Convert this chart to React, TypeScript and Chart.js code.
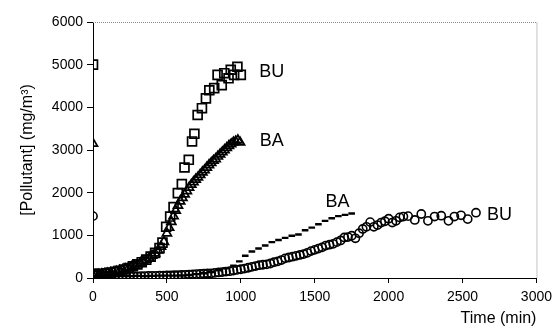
import React, { useEffect, useRef } from "react";
import { Chart, registerables } from "chart.js";

Chart.register(...registerables);

// BU (first run) – squares
const buSqTime = [0, 0, 30, 60, 90, 120, 150, 180, 210, 240, 270, 300, 330, 360, 390, 420, 450, 470, 495, 522, 545, 574, 601, 619, 648, 670, 686, 708, 737, 764, 787, 820, 843, 871, 888, 917, 932, 955, 977, 1000];
const buSqValue = [5000, 100, 95, 100, 110, 125, 145, 170, 200, 235, 275, 320, 370, 430, 500, 590, 700, 830, 1200, 1440, 1660, 1990, 2200, 2590, 2770, 3200, 3380, 3820, 3980, 4210, 4400, 4450, 4760, 4520, 4800, 4680, 4880, 4760, 4950, 4760];

// BA (first run) – triangles
const baTriTime = [0, 0, 20, 40, 60, 80, 100, 120, 140, 160, 180, 200, 220, 240, 260, 280, 300, 320, 340, 360, 380, 400, 420, 440, 460, 480, 500, 515, 530, 545, 560, 575, 590, 605, 620, 635, 650, 665, 680, 695, 710, 725, 740, 755, 770, 785, 800, 815, 830, 845, 860, 875, 890, 905, 920, 935, 950, 965, 980, 995];
const baTriValue = [3150, 60, 70, 80, 90, 100, 110, 120, 135, 150, 170, 190, 210, 235, 260, 290, 320, 355, 390, 430, 475, 525, 580, 650, 740, 850, 1050, 1180, 1320, 1450, 1580, 1700, 1800, 1880, 1960, 2040, 2120, 2190, 2250, 2310, 2360, 2420, 2480, 2530, 2590, 2650, 2700, 2750, 2790, 2850, 2900, 2950, 3000, 3050, 3100, 3140, 3180, 3200, 3230, 3180];

// BA (second run) – dashes
const baDashTime = [0, 50, 100, 150, 200, 250, 300, 350, 400, 450, 500, 550, 600, 650, 700, 750, 800, 850, 900, 950, 990, 1030, 1075, 1120, 1165, 1210, 1255, 1300, 1345, 1390, 1435, 1480, 1525, 1570, 1615, 1660, 1705, 1750];
const baDashValue = [50, 40, 45, 40, 45, 45, 50, 45, 50, 55, 55, 55, 60, 70, 90, 110, 140, 180, 230, 290, 390, 520, 620, 690, 760, 840, 890, 940, 990, 1020, 1120, 1180, 1260, 1340, 1400, 1450, 1480, 1510];

// BU (second run) – circles
const buCirTime = [0, 0, 25, 50, 75, 100, 125, 150, 175, 200, 225, 250, 275, 300, 325, 350, 375, 400, 425, 450, 475, 500, 525, 550, 575, 600, 625, 650, 675, 700, 725, 750, 775, 800, 825, 850, 875, 900, 925, 950, 975, 1000, 1025, 1050, 1075, 1100, 1125, 1150, 1175, 1200, 1225, 1250, 1275, 1300, 1325, 1350, 1375, 1400, 1425, 1450, 1475, 1500, 1525, 1550, 1575, 1600, 1625, 1650, 1675, 1700, 1725, 1750, 1775, 1800, 1825, 1850, 1875, 1900, 1925, 1950, 1975, 2000, 2025, 2050, 2075, 2100, 2132, 2177, 2221, 2266, 2311, 2356, 2405, 2445, 2490, 2535, 2591];
const buCirValue = [1450, 80, 70, 60, 55, 50, 50, 45, 45, 40, 40, 40, 45, 40, 45, 45, 50, 50, 50, 55, 55, 60, 60, 65, 65, 70, 75, 80, 85, 90, 95, 100, 105, 110, 120, 130, 140, 150, 160, 175, 190, 205, 220, 240, 260, 280, 300, 310, 320, 340, 370, 390, 420, 460, 480, 500, 520, 540, 560, 590, 630, 660, 690, 720, 760, 780, 800, 840, 880, 950, 960, 990, 930, 1050, 1150, 1200, 1310, 1200, 1240, 1300, 1330, 1390, 1300, 1340, 1420, 1440, 1450, 1360, 1500, 1340, 1440, 1460, 1340, 1440, 1470, 1380, 1530];

const xTicks = [0, 500, 1000, 1500, 2000, 2500, 3000];
const yTicks = [0, 1000, 2000, 3000, 4000, 5000, 6000];

const seriesLabels = ["BU", "BA", "BA", "BU"];
const labelTime = [1210, 1210, 1655, 2750];
const labelValue = [4830, 3200, 1790, 1470];

const FONT = "'Liberation Sans', Arial, sans-serif";

const toPts = (t: number[], v: number[]) => t.map((x, i) => ({ x, y: v[i] }));

export default function App() {
  const ref = useRef<HTMLCanvasElement | null>(null);
  useEffect(() => {
    if (!ref.current) return;
    const labelPlugin = {
      id: "seriesLabels",
      afterDatasetsDraw(chart: any) {
        const { ctx, scales } = chart;
        ctx.save();
        ctx.fillStyle = "#000";
        ctx.font = `18px ${FONT}`;
        ctx.textAlign = "center";
        ctx.textBaseline = "middle";
        seriesLabels.forEach((s, i) => {
          ctx.fillText(s, scales.x.getPixelForValue(labelTime[i]), scales.y.getPixelForValue(labelValue[i]));
        });
        ctx.restore();
      },
      afterDraw(chart: any) {
        const { ctx, chartArea } = chart;
        ctx.save();
        ctx.strokeStyle = "#8a8a8a";
        ctx.lineWidth = 1;
        ctx.setLineDash([1, 1]);
        ctx.beginPath();
        ctx.moveTo(chartArea.left, chartArea.top + 0.5);
        ctx.lineTo(chartArea.right + 0.5, chartArea.top + 0.5);
        ctx.lineTo(chartArea.right + 0.5, chartArea.bottom);
        ctx.stroke();
        ctx.restore();
      },
    };
    const chart = new Chart(ref.current, {
      type: "scatter",
      data: {
        datasets: [
          { data: toPts(buSqTime, buSqValue), pointStyle: "rect", pointRadius: 6.3, borderColor: "#000", backgroundColor: "transparent", borderWidth: 1.7 },
          { data: toPts(baTriTime, baTriValue), pointStyle: "triangle", pointRadius: 5.2, borderColor: "#000", backgroundColor: "transparent", borderWidth: 1.7 },
          { data: toPts(baDashTime, baDashValue), pointStyle: "line", pointRadius: 3.3, borderColor: "#000", backgroundColor: "#000", borderWidth: 2.4 },
          { data: toPts(buCirTime, buCirValue), pointStyle: "circle", pointRadius: 4.1, borderColor: "#000", backgroundColor: "transparent", borderWidth: 1.6 },
        ] as any,
      },
      plugins: [labelPlugin],
      options: {
        animation: false,
        responsive: false,
        events: [],
        layout: { padding: { top: 22, right: 19, left: 0, bottom: 0 } },
        plugins: { legend: { display: false }, tooltip: { enabled: false } },
        scales: {
          x: {
            type: "linear",
            min: 0,
            max: 3000,
            afterBuildTicks: (s: any) => { s.ticks = xTicks.map((v) => ({ value: v })); },
            afterFit: (s: any) => { s.height = 55; },
            ticks: { color: "#000", font: { family: FONT, size: 14 }, padding: 6, maxRotation: 0, callback: (v: any) => String(v) },
            grid: { drawOnChartArea: false, drawTicks: true, tickLength: 5, color: "#000" },
            border: { color: "#000", width: 1 },
            title: { display: true, text: "Time (min)", align: "end", color: "#000", font: { family: FONT, size: 16 }, padding: { top: 0, bottom: 5 } },
          },
          y: {
            type: "linear",
            min: 0,
            max: 6000,
            afterBuildTicks: (s: any) => { s.ticks = yTicks.map((v) => ({ value: v })); },
            afterFit: (s: any) => { s.width = 93; },
            ticks: { color: "#000", font: { family: FONT, size: 14 }, padding: 4, callback: (v: any) => String(v) },
            grid: { drawOnChartArea: false, drawTicks: true, tickLength: 6, color: "#000" },
            border: { color: "#000", width: 1 },
            title: { display: true, text: "[Pollutant] (mg/m³)", color: "#000", font: { family: FONT, size: 16 }, padding: { top: 18, bottom: 0 } },
          },
        },
      } as any,
    });
    return () => chart.destroy();
  }, []);
  return (
    <div style={{ position: "fixed", left: 0, top: 0, width: 558, height: 333, background: "#fff" }}>
      <canvas ref={ref} width={558} height={333} style={{ display: "block" }} />
    </div>
  );
}
